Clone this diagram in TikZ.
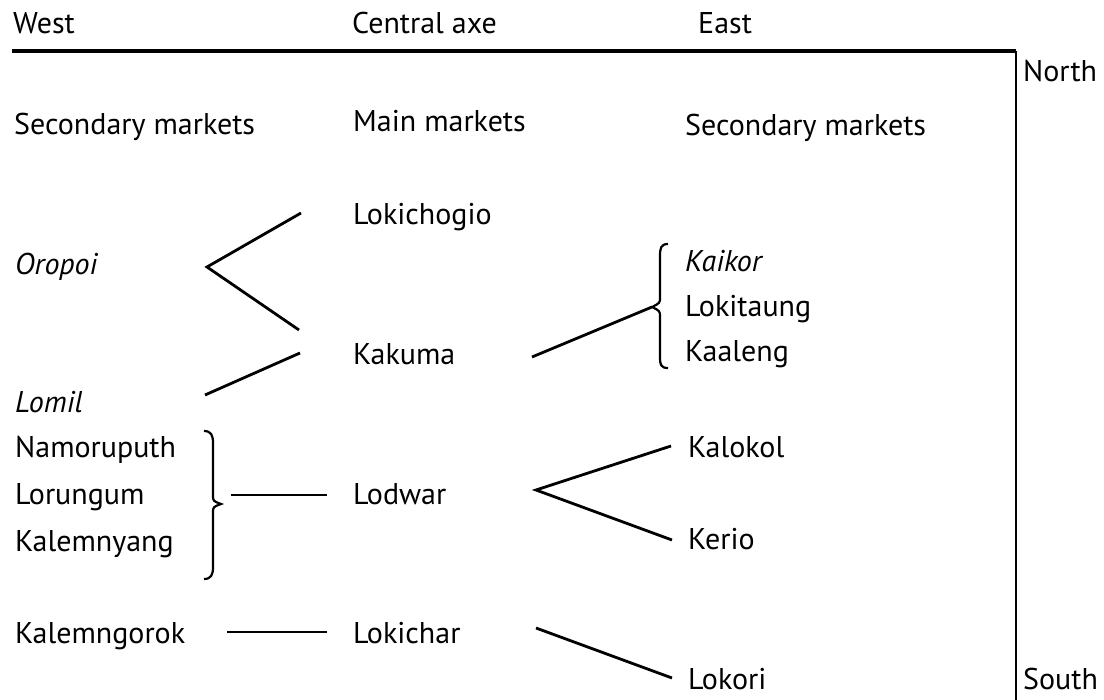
\documentclass[tikz,border=0pt]{standalone}
\usepackage{fontspec}
\setmainfont{PT Sans}
\begin{document}
\begin{tikzpicture}[x=1pt,y=-1pt,
  lbl/.style={anchor=base west,inner sep=0pt,font=\fontsize{30}{36}\selectfont},
  it/.style={lbl,font=\fontsize{30}{36}\selectfont\itshape},
  conn/.style={line width=2.8pt},
  rule/.style={line width=3.6pt}]
\useasboundingbox (0,0) rectangle (1104,700);
% headings
\node[lbl] (west) at (13,34) {West};
\node[lbl] (central) at (352,34) {Central axe};
\node[lbl] (east) at (698,34) {East};
\node[lbl] (north) at (1023,82) {North};
\node[lbl] (south) at (1023,689) {South};
\node[lbl] (secw) at (14,135) {Secondary markets};
\node[lbl] (main) at (353,132) {Main markets};
\node[lbl] (sece) at (685,136) {Secondary markets};
% places
\node[lbl] (lokichogio) at (353,225) {Lokichogio};
\node[it] (oropoi) at (15,275) {Oropoi};
\node[it] (kaikor) at (685,272) {Kaikor};
\node[lbl] (lokitaung) at (685,317) {Lokitaung};
\node[lbl] (kakuma) at (353,365) {Kakuma};
\node[lbl] (kaaleng) at (685,362) {Kaaleng};
\node[it] (lomil) at (15,413) {Lomil};
\node[lbl] (namoruputh) at (15,458) {Namoruputh};
\node[lbl] (lorungum) at (15,505) {Lorungum};
\node[lbl] (kalemnyang) at (15,551) {Kalemnyang};
\node[lbl] (lodwar) at (353,505) {Lodwar};
\node[lbl] (kalokol) at (688,458) {Kalokol};
\node[lbl] (kerio) at (688,550) {Kerio};
\node[lbl] (kalemngorok) at (15,643) {Kalemngorok};
\node[lbl] (lokichar) at (353,643) {Lokichar};
\node[lbl] (lokori) at (688,689) {Lokori};
% frame
\coordinate (tl) at (12,51);
\coordinate (tr) at (1016,51);
\coordinate (br) at (1016,700);
\draw[rule] (tl) -- (tr);
\draw[conn] (tr) -- (br);
% connector ends
\coordinate (o) at (207,267);
\coordinate (o1) at (301,213);
\coordinate (o2) at (299,330);
\coordinate (l1) at (205,395);
\coordinate (l2) at (300,353);
\coordinate (k1) at (532,357);
\coordinate (k2) at (652,307);
\coordinate (w1) at (231,495);
\coordinate (w2) at (327,495);
\coordinate (d) at (536,490);
\coordinate (d1) at (671,446);
\coordinate (d2) at (672,540);
\coordinate (g1) at (227,632);
\coordinate (g2) at (327,632);
\coordinate (c1) at (536,628);
\coordinate (c2) at (672,678);
\draw[conn] (o1) -- (o) -- (o2);
\draw[conn] (l1) -- (l2);
\draw[conn] (k1) -- (k2);
\draw[conn] (w1) -- (w2);
\draw[conn] (d1) -- (d) -- (d2);
\draw[conn] (g1) -- (g2);
\draw[conn] (c1) -- (c2);
% braces
\draw[line width=2.2pt] (668,244) .. controls (661,244) and (660,248) .. (660,256) -- (660,297) .. controls (660,303) .. (652,307) .. controls (660,311) .. (660,317) -- (660,357) .. controls (660,365) and (661,368) .. (668,368);
\draw[line width=2.2pt] (204,431) .. controls (211,431) and (213,435) .. (213,443) -- (213,495) .. controls (213,501) .. (221,504) .. controls (213,507) .. (213,513) -- (213,567) .. controls (213,575) and (211,579) .. (204,579);
\end{tikzpicture}
\end{document}
